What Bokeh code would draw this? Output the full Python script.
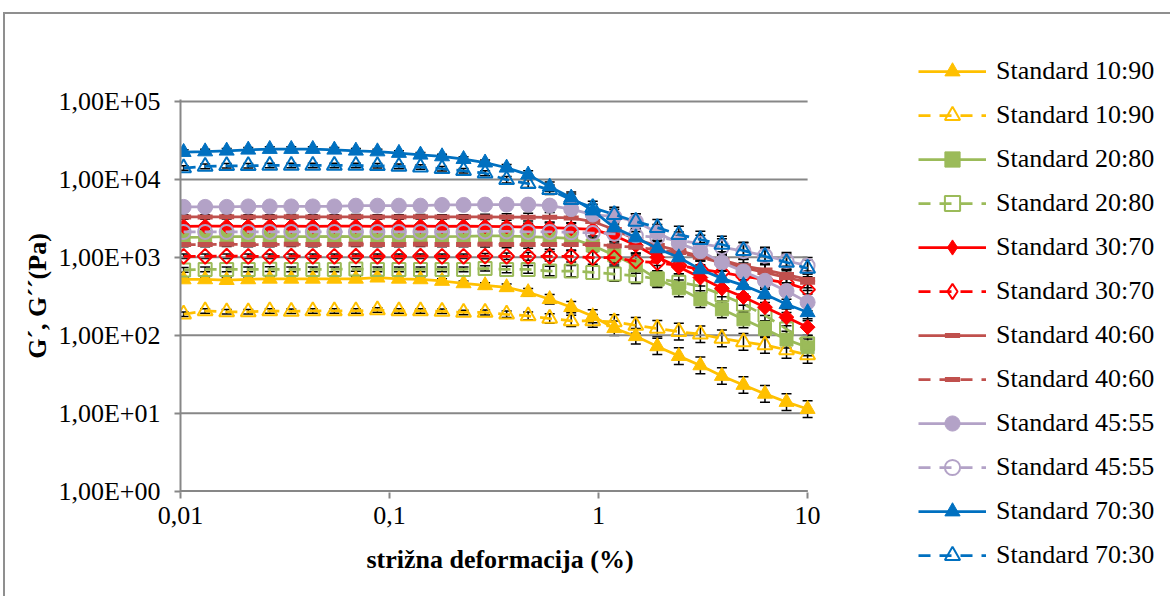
from bokeh.plotting import figure
from bokeh.layouts import row, column
from bokeh.models import (ColumnDataSource, Whisker, TeeHead, Legend, LegendItem,
                          FixedTicker, Range1d)
from bokeh.embed import file_html
from bokeh.resources import INLINE

# ---------------- data ----------------
strain = [0.01035, 0.01312, 0.01663, 0.02109, 0.02673, 0.03388, 0.04295, 0.05445, 0.06902, 0.0875,
          0.1109, 0.1406, 0.1783, 0.226, 0.2865, 0.3632, 0.4604, 0.5836, 0.7398, 0.9378,
          1.189, 1.507, 1.91, 2.421, 3.069, 3.891, 4.933, 6.253, 7.927, 10.0]

g1_10_90 = [520, 521, 510, 521, 530, 530, 530, 530, 530, 548, 530, 521, 497, 463, 437,
            412, 356, 290, 229, 175, 123, 97, 72, 54, 41, 30, 23, 17.7, 13.9, 11.3]
g2_10_90 = [186, 205, 200, 200, 205, 203, 205, 205, 205, 211, 205, 205, 203, 196, 196,
            186, 177, 164, 153, 153, 148, 134, 122, 111, 103, 91, 82, 75, 65, 56]
g1_20_80 = [1800, 1820, 1850, 1850, 1840, 1850, 1850, 1860, 1850, 1850, 1860, 1850, 1850, 1860, 1880,
            1880, 1850, 1800, 1750, 1420, 1060, 787, 520, 400, 290, 215, 160, 120, 88, 70]
g2_20_80 = [690, 700, 700, 700, 705, 700, 700, 700, 710, 700, 700, 700, 700, 700, 720,
            700, 700, 667, 667, 641, 610, 580, 530, 480, 425, 330, 250, 180, 120, 78]
g1_30_70 = [2500, 2510, 2510, 2500, 2510, 2510, 2500, 2510, 2510, 2500, 2510, 2510, 2500, 2510, 2500,
            2480, 2450, 2400, 2350, 2280, 1900, 1430, 1000, 750, 550, 400, 310, 229, 170, 127]
g2_30_70 = [1030, 1030, 1035, 1030, 1030, 1035, 1030, 1030, 1035, 1030, 1030, 1035, 1030, 1030, 1035,
            1030, 1030, 1030, 1030, 988, 988, 894, 853, 787, 700, 641, 570, 521, 470, 385]
g1_40_60 = [3300, 3300, 3310, 3300, 3300, 3310, 3300, 3300, 3310, 3300, 3300, 3310, 3300, 3300, 3300,
            3290, 3280, 3260, 3200, 2880, 2280, 1690, 1420, 1220, 1030, 920, 780, 690, 600, 521]
g2_40_60 = [1460, 1460, 1470, 1460, 1460, 1470, 1460, 1460, 1470, 1460, 1460, 1470, 1460, 1460, 1470,
            1460, 1460, 1460, 1460, 1460, 1400, 1350, 1250, 1150, 1000, 850, 740, 640, 550, 480]
g1_45_55 = [4440, 4440, 4440, 4500, 4500, 4500, 4500, 4500, 4600, 4600, 4600, 4600, 4700, 4700, 4750,
            4750, 4750, 4610, 4160, 3540, 3330, 2880, 2080, 1510, 1200, 860, 660, 500, 370, 265]
g2_45_55 = [2120, 2120, 2120, 2120, 2120, 2120, 2120, 2120, 2120, 2120, 2120, 2120, 2120, 2120, 2150,
            2150, 2120, 2120, 2100, 2050, 2000, 1900, 1800, 1650, 1500, 1350, 1200, 1050, 900, 780]
g1_70_30 = [22400, 22800, 23300, 24000, 24500, 24500, 24500, 24000, 23300, 22800, 21800, 20700, 19700, 18200, 16400,
            14100, 11500, 8070, 5830, 3980, 2410, 1800, 1300, 997, 700, 537, 437, 336, 250, 197]
g2_70_30 = [14000, 14700, 14960, 14960, 15100, 15100, 15100, 15100, 15100, 14960, 14700, 14400, 13700, 12900, 12000,
            9910, 8810, 7380, 5500, 4340, 3540, 2880, 2410, 1960, 1690, 1460, 1220, 1030, 861, 722]

rel_err = [0.07, 0.07, 0.07, 0.07, 0.07, 0.07, 0.07, 0.07, 0.07, 0.07, 0.07, 0.07, 0.07, 0.07, 0.08,
           0.10, 0.12, 0.15, 0.18, 0.21, 0.24, 0.26, 0.27, 0.28, 0.28, 0.28, 0.28, 0.28, 0.28, 0.28]

labels = ["Standard 10:90", "Standard 10:90", "Standard 20:80", "Standard 20:80",
          "Standard 30:70", "Standard 30:70", "Standard 40:60", "Standard 40:60",
          "Standard 45:55", "Standard 45:55", "Standard 70:30", "Standard 70:30"]
values = [g1_10_90, g2_10_90, g1_20_80, g2_20_80, g1_30_70, g2_30_70,
          g1_40_60, g2_40_60, g1_45_55, g2_45_55, g1_70_30, g2_70_30]

y_ticks = [1, 10, 100, 1000, 10000, 100000]
y_tick_labels = ["1,00E+00", "1,00E+01", "1,00E+02", "1,00E+03", "1,00E+04", "1,00E+05"]
x_ticks = [0.01, 0.1, 1, 10]
x_tick_labels = ["0,01", "0,1", "1", "10"]

# ---------------- styles ----------------
colors = ["#FFC000", "#FFC000", "#9BBB59", "#9BBB59", "#FF0000", "#FF0000",
          "#C0504D", "#C0504D", "#B3A2C7", "#B3A2C7", "#0070C0", "#0070C0"]
markers = ["triangle", "triangle", "square", "square", "square", "square",
           "dash", "dash", "circle", "circle", "triangle", "triangle"]
legend_markers = ["triangle", "triangle", "square", "square", "diamond", "diamond",
                  "dash", "dash", "circle", "circle", "triangle", "triangle"]
sizes = [15, 15, 13, 13, 10.5, 10.5, 15, 15, 15, 14, 15, 15]
angles = [0, 0, 0, 0, 0.785398, 0.785398, 0, 0, 0, 0, 0, 0]
filled = [True, False] * 6

FONT = "Times New Roman"
GRID = "#878787"
OFF_X, OFF_Y = 5, 14      # canvas offset caused by the outer chart border
H = 596 - OFF_Y

p = figure(width=820, height=H, x_axis_type="log", y_axis_type="log",
           x_range=Range1d(0.01, 11.4), y_range=Range1d(0.96, 1.06e5),
           output_backend="svg", toolbar_location=None,
           min_border_left=180 - OFF_X, min_border_right=6,
           min_border_top=99 - OFF_Y, min_border_bottom=104)
p.outline_line_color = None
p.background_fill_color = "white"
p.border_fill_color = "white"
p.xgrid.visible = False
p.ygrid.visible = False

# legend-only figure (its ranges lie outside the data, so only the legend shows)
lp = figure(width=1165 - 820, height=H, x_range=Range1d(1e3, 2e3), y_range=Range1d(1e6, 2e6),
            output_backend="svg", toolbar_location=None,
            x_axis_location=None, y_axis_location=None,
            min_border_left=0, min_border_right=0, min_border_top=0, min_border_bottom=0)
lp.outline_line_color = None
lp.grid.visible = False
lp.background_fill_color = "white"
lp.border_fill_color = "white"

# gridlines (drawn only across 0.01..10, like the reference)
p.segment(x0=[x_ticks[0]] * len(y_ticks), x1=[x_ticks[-1]] * len(y_ticks), y0=y_ticks, y1=y_ticks,
          line_color=GRID, line_width=2)

# error bars
for vals in values:
    src = ColumnDataSource(dict(x=strain,
                                up=[v * (1 + e) for v, e in zip(vals, rel_err)],
                                lo=[v / (1 + e) for v, e in zip(vals, rel_err)]))
    w = Whisker(base="x", upper="up", lower="lo", source=src, dimension="height",
                line_color="black", line_width=1.5,
                upper_head=TeeHead(size=10, line_color="black", line_width=1.5),
                lower_head=TeeHead(size=10, line_color="black", line_width=1.5))
    p.add_layout(w)


def draw(fig, i, vals, marker, angle):
    dash = "solid" if filled[i] else "12 9"
    lr = fig.line(strain, vals, line_color=colors[i], line_width=2.75, line_dash=dash)
    if marker == "dash":
        mr = fig.scatter(strain, vals, marker="dash", size=sizes[i], line_color=colors[i], line_width=5)
    elif filled[i]:
        mr = fig.scatter(strain, vals, marker=marker, size=sizes[i], angle=angle,
                         fill_color=colors[i], line_color=colors[i], line_width=1)
    else:
        mr = fig.scatter(strain, vals, marker=marker, size=sizes[i], angle=angle,
                         fill_alpha=0, line_color=colors[i], line_width=2)
    return lr, mr


items = []
for i, vals in enumerate(values):
    draw(p, i, vals, markers[i], angles[i])
    lr, mr = draw(lp, i, vals, legend_markers[i], 0)
    items.append(LegendItem(label=labels[i], renderers=[lr, mr]))

legend = Legend(items=items, location=(93, 22), orientation="vertical",
                glyph_width=68, glyph_height=38, label_height=38, spacing=6,
                label_standoff=10, padding=0, margin=0,
                border_line_color=None, background_fill_alpha=0,
                label_text_font=FONT, label_text_font_size="26px",
                label_text_color="black")
lp.add_layout(legend, "center")

# axes
for ax in (p.xaxis[0], p.yaxis[0]):
    ax.major_label_text_font = FONT
    ax.major_label_text_font_size = "26px"
    ax.major_label_text_color = "black"
    ax.axis_label_text_font = FONT
    ax.axis_label_text_font_size = "26px"
    ax.axis_label_text_font_style = "bold"
    ax.axis_label_text_color = "black"
    ax.major_tick_line_color = GRID
    ax.major_tick_line_width = 2
    ax.major_tick_in = 0
    ax.major_tick_out = 6
    ax.minor_tick_line_color = None
    ax.axis_line_color = GRID
    ax.axis_line_width = 2

p.yaxis.ticker = FixedTicker(ticks=y_ticks, minor_ticks=[])
p.yaxis.major_label_overrides = dict(zip(y_ticks, y_tick_labels))
p.yaxis.major_label_standoff = 14
p.yaxis.axis_label = "G\u00b4, G\u00b4\u00b4(Pa)"
p.yaxis.axis_label_standoff = 3

p.xaxis.ticker = FixedTicker(ticks=x_ticks, minor_ticks=[])
p.xaxis.major_label_overrides = dict(zip(x_ticks, x_tick_labels))
p.xaxis.major_label_standoff = 8
p.xaxis.axis_line_color = None
p.xaxis.axis_label = "stri\u017ena deformacija (%)"
p.xaxis.axis_label_standoff = 18

# x axis line only across 0.01..10
p.segment(x0=[x_ticks[0]], x1=[x_ticks[-1]], y0=[y_ticks[0]], y1=[y_ticks[0]],
          line_color=GRID, line_width=2)

layout = row(p, column(lp), spacing=0)
layout.styles = {"margin-left": "3px", "margin-top": "12px",
                 "border-left": "2px solid #8f8f8f", "border-top": "2px solid #8f8f8f",
                 "box-sizing": "content-box"}

open("out.html", "w").write(file_html(layout, INLINE))
